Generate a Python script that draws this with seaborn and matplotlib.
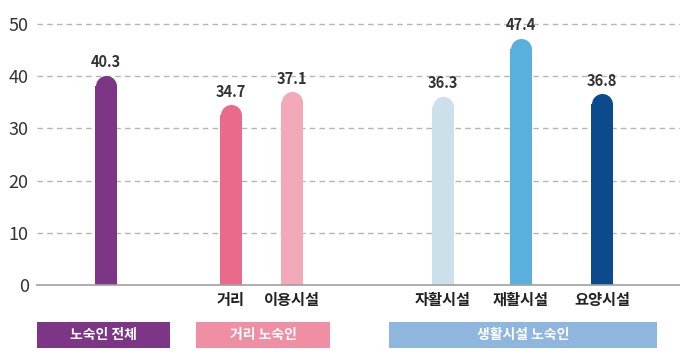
import numpy as np
import pandas as pd
import matplotlib
matplotlib.use('Agg')
import matplotlib.pyplot as plt
from matplotlib.patches import Rectangle
import seaborn as sns

# data
categories = ['노숙인 전체', '거리', '이용시설', '자활시설', '재활시설', '요양시설']
tick_labels = ['', '거리', '이용시설', '자활시설', '재활시설', '요양시설']
values = [40.3, 34.7, 37.1, 36.3, 47.4, 36.8]
colors = ['#7d3585', '#e96a8b', '#f2a9b9', '#cbe0eb', '#5ab0dc', '#0b4a8d']
groups = ['노숙인 전체', '거리 노숙인', '생활시설 노숙인']
group_colors = ['#7d3585', '#ef8fa4', '#8fb7de']

# layout (x in pixel-like units along the axis)
xpos = [106, 231, 292, 443, 521, 602]
group_boxes = [(37, 170), (196, 330), (389, 657)]

sns.set_style('white')
plt.rcParams['font.family'] = ['Noto Sans CJK KR', 'DejaVu Sans']

fig = plt.figure(figsize=(6.8, 3.55), dpi=100)
ax = fig.add_axes([37 / 680, 70 / 355, 643 / 680, 271.4 / 355])
ax.set_xlim(37, 680)
ax.set_ylim(0, 52)

px_per_unit = 271.4 / 52
bar_px = 22
r = (bar_px / 2) / px_per_unit  # cap radius in data units

df = pd.DataFrame({'x': xpos, 'h': np.array(values) - r, 'cat': categories})

for y in [10, 20, 30, 40, 50]:
    ax.axhline(y, color='#b5b5b5', lw=1, ls=(0, (4, 3)), zorder=0, clip_on=False)

sns.barplot(data=df, x='x', y='h', hue='cat', palette=colors, native_scale=True,
            width=bar_px / 61, saturation=1, legend=False, ax=ax, zorder=2,
            linewidth=0)

ms = (bar_px - 1) * 72 / 100
for xp, v, c in zip(xpos, values, colors):
    ax.plot([xp], [v - r], marker='o', ms=ms, color=c, mec='none', zorder=3)
    ax.text(xp, v + 0.8, f'{v:.1f}', ha='center', va='bottom', fontsize=10.5,
            color='#333333', fontweight='bold', zorder=4)

ax.set_xticks(xpos)
ax.set_xticklabels(tick_labels, fontsize=11, fontweight='bold', color='#222222')
ax.tick_params(axis='x', length=0, pad=5)
ax.set_yticks([0, 10, 20, 30, 40, 50])
ax.set_yticklabels(['0', '10', '20', '30', '40', '50'], fontsize=13, color='#333333')
ax.tick_params(axis='y', length=0, pad=6)
ax.set_xlabel('')
ax.set_ylabel('')

for s in ['top', 'right', 'left']:
    ax.spines[s].set_visible(False)
ax.spines['bottom'].set_color('#a0a0a0')
ax.spines['bottom'].set_linewidth(1.2)

for (x0, x1), g, c in zip(group_boxes, groups, group_colors):
    fig.add_artist(Rectangle((x0 / 680, 7 / 355), (x1 - x0) / 680, 26 / 355,
                             transform=fig.transFigure, color=c, lw=0))
    fig.text((x0 + x1) / 2 / 680, 20 / 355, g, ha='center', va='center',
             color='white', fontsize=10, fontweight='bold')

fig.savefig('out.png', dpi=100)
